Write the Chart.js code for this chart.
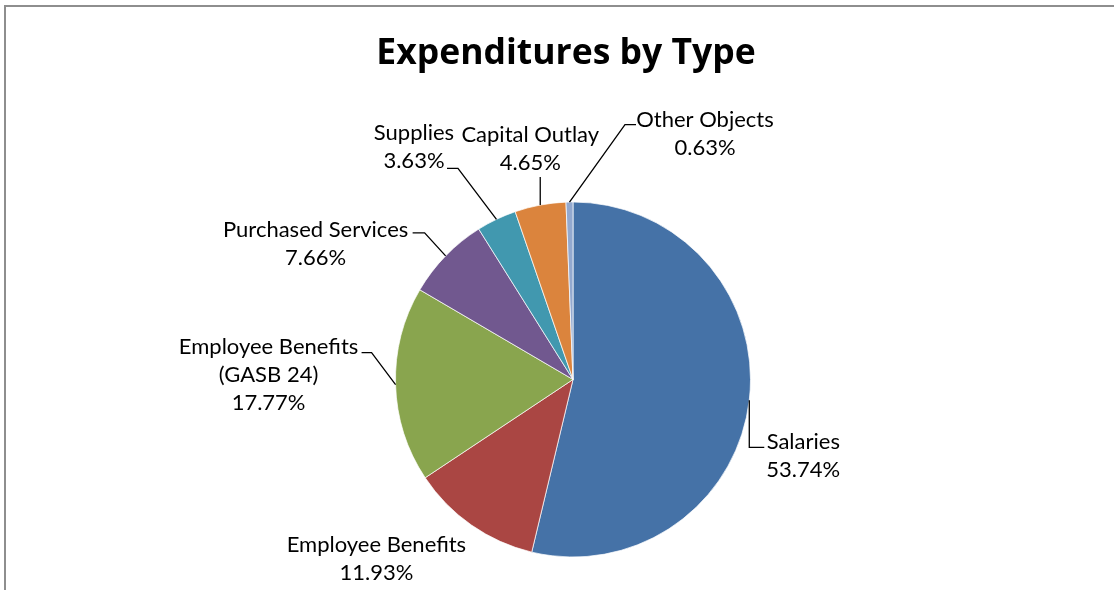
<!DOCTYPE html>
<html>
<head>
<meta charset="utf-8">
<title>Expenditures by Type</title>
<script src="https://cdn.jsdelivr.net/npm/chart.js@4.4.1/dist/chart.umd.min.js"></script>
<style>
  html, body { margin: 0; padding: 0; background: #fff; }
  #wrap {
    position: relative;
    width: 1114px;
    height: 590px;
    overflow: hidden;
  }
  /* frame of the chart area, only left and top edges are visible */
  #frame {
    position: absolute;
    left: 4px;
    top: 5px;
    width: 1200px;
    height: 700px;
    border-left: 2px solid #8e8e8e;
    border-top: 2px solid #8e8e8e;
  }
  #chart { position: absolute; left: 0; top: 0; }
</style>
</head>
<body>
<div id="wrap">
  <div id="frame"></div>
  <canvas id="chart" width="1114" height="590"></canvas>
</div>
<script>
// ── Datos ──
const categories = [
  'Salaries',
  'Employee Benefits',
  ['Employee Benefits', '(GASB 24)'],
  'Purchased Services',
  'Supplies',
  'Capital Outlay',
  'Other Objects',
];
const shares = [53.74, 11.93, 17.77, 7.66, 3.63, 4.65, 0.63];

// ── Estilo ──
const sliceColors = ['#4572A7', '#AA4643', '#89A54E', '#71588F', '#4198AF', '#DB843D', '#93A9CF'];
const LABEL_FONT = '22px Lato, "Open Sans", sans-serif';
const TITLE_FONT = 'bold 35.5px "Open Sans", Lato, sans-serif';
const LINE_H = 28;

// Label placement relative to the point where the slice's middle meets the rim:
// text = centre x / first baseline, leader = knee points (empty = no leader)
const LABEL_LAYOUT = [
  { text: [54, 49],     leader: [[0, 47], [15, 47]] },
  { text: [-95, 26.5],  leader: [] },
  { text: [-127, -31],  leader: [[-24, -32], [-34, -32]] },
  { text: [-130, -19],  leader: [[-21, -23], [-33, -23]] },
  { text: [-82.5, -79], leader: [[-38.5, -51], [-49.5, -51]] },
  { text: [-10, -63],   leader: [[0, -28]] },
  { text: [135.5, -75], leader: [[55.5, -77.5], [66.5, -77.5]] },
];

// ── Plugin: título + etiquetas con líneas guía ──
const pieLabels = {
  id: 'pieLabels',
  afterDraw(chart) {
    const ctx = chart.ctx;
    ctx.save();

    ctx.fillStyle = '#000';
    ctx.font = TITLE_FONT;
    ctx.textAlign = 'center';
    ctx.textBaseline = 'alphabetic';
    ctx.fillText('Expenditures by Type', 566, 64);

    const arcs = chart.getDatasetMeta(0).data;
    arcs.forEach((arc, i) => {
      const { x, y, startAngle, endAngle, outerRadius } =
        arc.getProps(['x', 'y', 'startAngle', 'endAngle', 'outerRadius'], true);
      const mid = (startAngle + endAngle) / 2;
      const px = x + Math.cos(mid) * outerRadius;
      const py = y + Math.sin(mid) * outerRadius;
      const lay = LABEL_LAYOUT[i];

      if (lay.leader.length) {
        ctx.beginPath();
        ctx.moveTo(px, py);
        lay.leader.forEach(([dx, dy]) => ctx.lineTo(px + dx, py + dy));
        ctx.strokeStyle = '#000';
        ctx.lineWidth = 1.3;
        ctx.stroke();
      }

      const name = categories[i];
      const lines = (Array.isArray(name) ? name.slice() : [name]);
      lines.push(shares[i].toFixed(2) + '%');
      ctx.font = LABEL_FONT;
      ctx.fillStyle = '#000';
      ctx.textAlign = 'center';
      lines.forEach((t, k) => {
        ctx.fillText(t, px + lay.text[0], py + lay.text[1] + k * LINE_H);
      });
    });

    ctx.restore();
  },
};

// ── Gráfico ──
new Chart(document.getElementById('chart'), {
  type: 'pie',
  data: {
    labels: categories,
    datasets: [{
      data: shares,
      backgroundColor: sliceColors,
      borderColor: 'rgba(255,255,255,0.7)',
      borderWidth: 1,
      hoverOffset: 0,
    }],
  },
  options: {
    responsive: false,
    animation: false,
    events: [],
    radius: 177.5,
    layout: { padding: { left: 396, right: 364, top: 201, bottom: 32 } },
    plugins: {
      legend: { display: false },
      tooltip: { enabled: false },
      title: { display: false },
    },
  },
  plugins: [pieLabels],
});
</script>
</body>
</html>
